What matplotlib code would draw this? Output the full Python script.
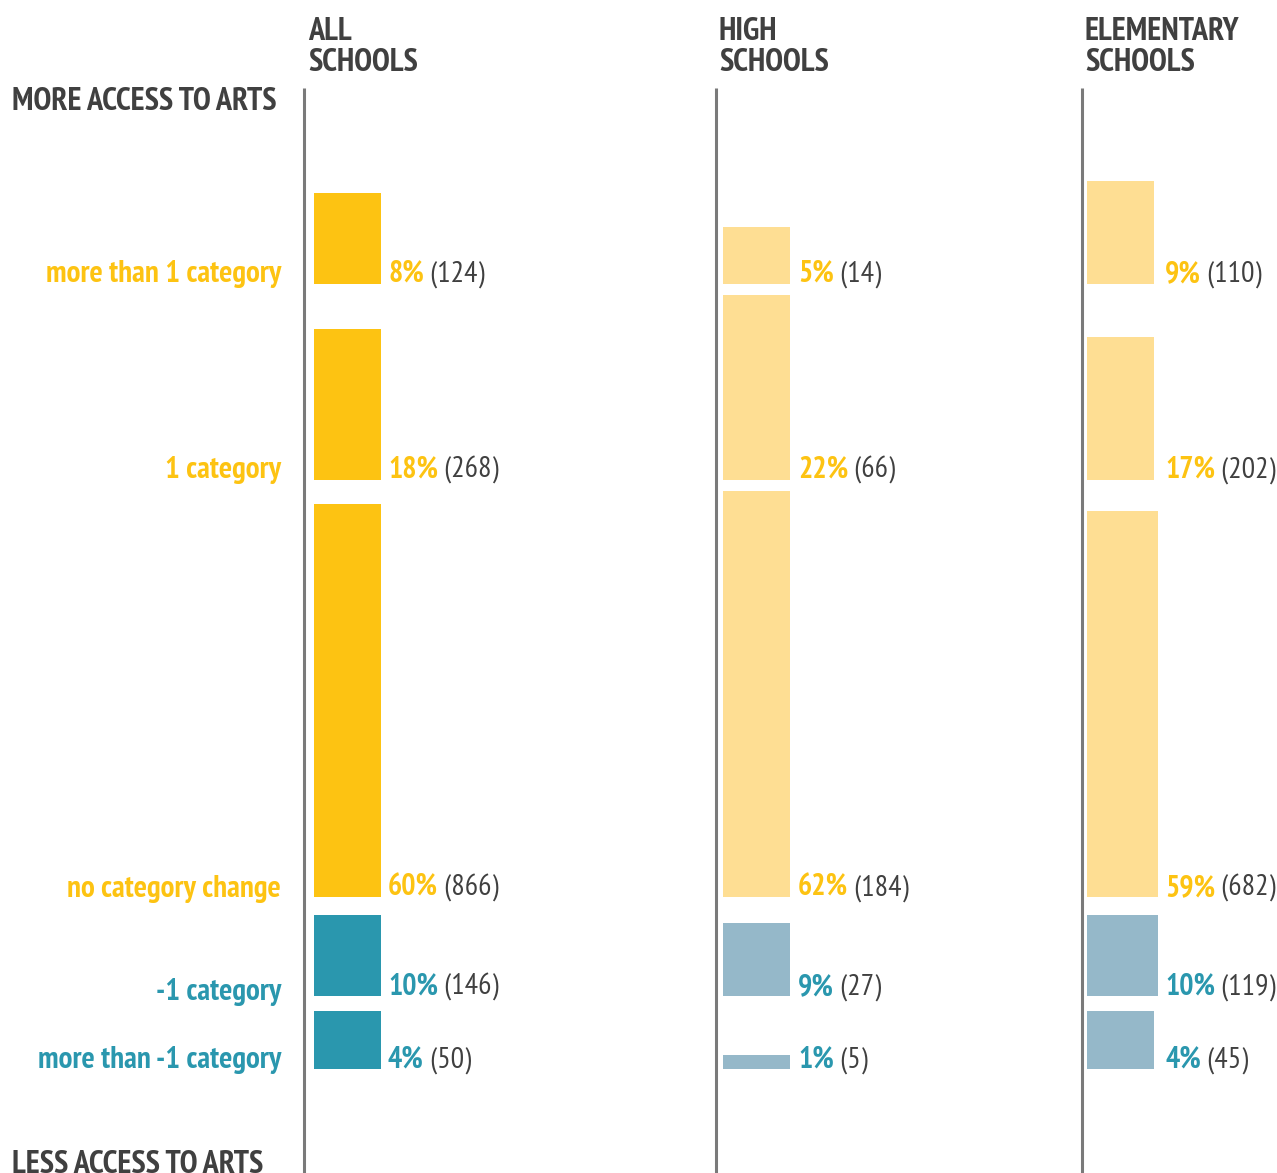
import matplotlib
matplotlib.use('Agg')
import matplotlib.pyplot as plt

# school groups and change categories
groups = [('ALL', 'SCHOOLS'), ('HIGH', 'SCHOOLS'), ('ELEMENTARY', 'SCHOOLS')]
categories = ['more than 1 category', '1 category', 'no category change',
              '-1 category', 'more than -1 category']

# share of schools (%) and school counts per category
pct_all = [8, 18, 60, 10, 4]
pct_high = [5, 22, 62, 9, 1]
pct_elem = [9, 17, 59, 10, 4]
n_all = [124, 268, 866, 146, 50]
n_high = [14, 66, 184, 27, 5]
n_elem = [110, 202, 682, 119, 45]

# layout (figure pixels)
W, H = 1277, 1173
row_base = [284, 480, 897, 996, 1069]      # bottom edge of each row's bars
row_scale = [11.4, 8.4, 6.55, 8.1, 14.5]   # px per percent, per row
cat_y = [274, 470, 889, 992, 1060]
val_y = [274, 470, 888, 987, 1060]
rule_x = [304, 716, 1082]
bar_x = [314, 723, 1087]
val_x = [388, 798, 1165]
head_x = [308, 719, 1085]

GOLD = '#FDC312'
TEAL = '#2A97AE'
GOLD_LIGHT = '#FEDE93'
TEAL_LIGHT = '#95B8C9'
TEXT_DARK = '#404040'
RULE = '#7a7a7a'

plt.rcParams['font.family'] = ['PT Sans Narrow', 'DejaVu Sans']

fig = plt.figure(figsize=(W / 100, H / 100), dpi=100)
ax = fig.add_axes([0, 0, 1, 1])
ax.set_xlim(0, W)
ax.set_ylim(H, 0)
ax.axis('off')

FS_HEAD = 23.2
FS_CAT = 22.3
FS_VAL = 21.5

# column headers and separator rules
for (l1, l2), hx, rx in zip(groups, head_x, rule_x):
    ax.text(hx, 32, l1, fontsize=FS_HEAD, fontweight='bold', color=TEXT_DARK, va='center', ha='left')
    ax.text(hx, 63, l2, fontsize=FS_HEAD, fontweight='bold', color=TEXT_DARK, va='center', ha='left')
    ax.plot([rx, rx], [88, H], color=RULE, lw=2.2, solid_capstyle='butt')

ax.text(12, 102, 'MORE ACCESS TO ARTS', fontsize=FS_HEAD, fontweight='bold', color=TEXT_DARK, va='center')
ax.text(12, 1165, 'LESS ACCESS TO ARTS', fontsize=FS_HEAD, fontweight='bold', color=TEXT_DARK, va='center')

# row labels
for i, cat in enumerate(categories):
    c = GOLD if i < 3 else TEAL
    ax.text(281, cat_y[i], cat, fontsize=FS_CAT, fontweight='bold', color=c, ha='right', va='center')


def value_label(x, y, pct, n, color):
    t = ax.text(x, y, f'{pct}%', fontsize=FS_VAL, fontweight='bold', color=color, ha='left', va='center')
    ax.annotate(f' ({n})', xy=(1, 0), xycoords=t, fontsize=FS_VAL, color=TEXT_DARK, ha='left', va='bottom')


series = [(pct_all, n_all, [67] * 5, GOLD, TEAL),
          (pct_high, n_high, [67] * 5, GOLD_LIGHT, TEAL_LIGHT),
          (pct_elem, n_elem, [67, 67, 71, 71, 67], GOLD_LIGHT, TEAL_LIGHT)]

for k, (pcts, counts, widths, up_c, down_c) in enumerate(series):
    for i, (p, n) in enumerate(zip(pcts, counts)):
        h = p * row_scale[i]
        fill = up_c if i < 3 else down_c
        ax.bar(bar_x[k], -h, width=widths[i], bottom=row_base[i], align='edge', color=fill, linewidth=0)
        value_label(val_x[k], val_y[i], p, n, GOLD if i < 3 else TEAL)

fig.savefig('out.png', dpi=100)
